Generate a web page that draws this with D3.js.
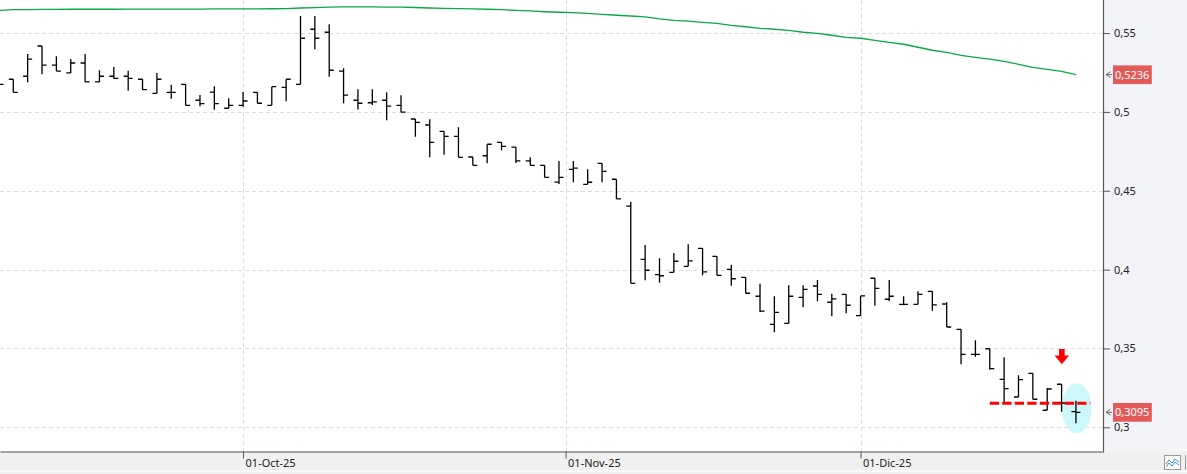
<!DOCTYPE html>
<html>
<head>
<meta charset="utf-8">
<script src="https://cdnjs.cloudflare.com/ajax/libs/d3/7.8.5/d3.min.js"></script>
<style>
  body { margin: 0; background: #fff; overflow: hidden; }
  text { font-family: "Noto Sans", sans-serif; }
</style>
</head>
<body>
<svg width="1187" height="474"></svg>
<script>
// bar numbers: first entry is bar -1 (cut off at the left edge), last is bar 74
var firstBar = -1;
var opens  = [0.5200,0.5207,0.5226,0.5418,0.5296,0.5247,0.5310,0.5190,0.5226,0.5226,0.5207,0.5118,0.5124,0.5175,0.5074,0.5126,0.5023,0.5042,0.5124,0.5042,0.5156,0.5175,0.5524,0.5505,0.5259,0.5074,0.5058,0.5074,0.5042,0.4955,0.4917,0.4877,0.4845,0.4714,0.4722,0.4807,0.4776,0.4689,0.4661,0.4555,0.4636,0.4541,0.4674,0.4573,0.4403,0.4065,0.3968,0.3983,0.4021,0.4135,0.4084,0.4002,0.3951,0.3831,0.3653,0.3659,0.3824,0.3896,0.3793,0.3843,0.3708,0.3945,0.3812,0.3780,0.3780,0.3862,0.3782,0.3621,0.3463,0.3498,0.3304,0.3192,0.3342,0.3108,0.3273,0.3100];
var highs  = [0.5205,0.5207,0.5367,0.5418,0.5353,0.5335,0.5367,0.5264,0.5285,0.5261,0.5207,0.5247,0.5172,0.5175,0.5107,0.5162,0.5086,0.5126,0.5124,0.5160,0.5207,0.5608,0.5608,0.5556,0.5277,0.5143,0.5143,0.5124,0.5105,0.4955,0.4953,0.4877,0.4902,0.4714,0.4795,0.4807,0.4776,0.4712,0.4661,0.4689,0.4689,0.4636,0.4674,0.4573,0.4431,0.4156,0.4072,0.4105,0.4160,0.4135,0.4084,0.4031,0.3951,0.3911,0.3831,0.3900,0.3900,0.3934,0.3847,0.3843,0.3833,0.3945,0.3934,0.3831,0.3862,0.3862,0.3793,0.3621,0.3552,0.3498,0.3444,0.3330,0.3342,0.3249,0.3273,0.3169];
var lows   = [0.5170,0.5124,0.5188,0.5238,0.5259,0.5247,0.5190,0.5190,0.5211,0.5134,0.5139,0.5118,0.5084,0.5042,0.5036,0.5014,0.5023,0.5033,0.5055,0.5042,0.5067,0.5175,0.5397,0.5223,0.5055,0.5015,0.5044,0.4947,0.4998,0.4843,0.4712,0.4729,0.4712,0.4661,0.4674,0.4757,0.4676,0.4661,0.4585,0.4543,0.4554,0.4541,0.4554,0.4448,0.3913,0.3932,0.3917,0.3983,0.4021,0.3964,0.3964,0.3898,0.3850,0.3731,0.3602,0.3659,0.3761,0.3799,0.3704,0.3723,0.3708,0.3771,0.3799,0.3774,0.3780,0.3739,0.3636,0.3400,0.3448,0.3365,0.3152,0.3192,0.3178,0.3108,0.3099,0.3025];
var closes = [0.5175,0.5124,0.5335,0.5296,0.5259,0.5310,0.5190,0.5226,0.5213,0.5213,0.5141,0.5207,0.5124,0.5042,0.5052,0.5052,0.5042,0.5069,0.5055,0.5160,0.5207,0.5467,0.5467,0.5264,0.5107,0.5055,0.5064,0.5036,0.4998,0.4934,0.4807,0.4845,0.4712,0.4661,0.4795,0.4782,0.4689,0.4661,0.4585,0.4585,0.4644,0.4554,0.4623,0.4448,0.3913,0.3996,0.3961,0.4053,0.4055,0.3985,0.3964,0.3942,0.3850,0.3737,0.3729,0.3831,0.3875,0.3843,0.3814,0.3774,0.3833,0.3881,0.3831,0.3780,0.3843,0.3776,0.3636,0.3463,0.3463,0.3372,0.3245,0.3302,0.3178,0.3243,0.3154,0.3095];
// moving average (green)
var avg    = [0.5644,0.5649,0.5649,0.5650,0.5650,0.5651,0.5651,0.5651,0.5651,0.5652,0.5652,0.5652,0.5652,0.5652,0.5652,0.5653,0.5653,0.5653,0.5653,0.5654,0.5655,0.5659,0.5661,0.5665,0.5666,0.5666,0.5666,0.5665,0.5664,0.5662,0.5659,0.5657,0.5655,0.5653,0.5651,0.5648,0.5644,0.5640,0.5635,0.5632,0.5629,0.5625,0.5619,0.5613,0.5608,0.5602,0.5590,0.5581,0.5575,0.5568,0.5562,0.5549,0.5540,0.5530,0.5524,0.5517,0.5505,0.5498,0.5486,0.5473,0.5467,0.5454,0.5441,0.5429,0.5410,0.5391,0.5378,0.5359,0.5346,0.5334,0.5321,0.5302,0.5283,0.5270,0.5257,0.5236];

var dateTicks  = [16, 38.46, 59];
var dateLabels = ["01-Oct-25", "01-Nov-25", "01-Dic-25"];
var priceTicks = [0.3, 0.35, 0.4, 0.45, 0.5, 0.55];
var lastValues = [0.5236, 0.3095];

var supportLevel = 0.3152, supportFrom = 68, supportTo = 75;
var arrowBar = 73, arrowTop = 0.3497;
var markBar = 74, markRange = [0.2962, 0.3279];

var W = 1187, H = 474, plotW = 1103.5, plotH = 451.5;
var svg = d3.select("svg");

var x = d3.scaleLinear().domain([-0.926, 75.92]).range([0, plotW]);
var y = d3.scaleLinear().domain([0.3, 0.55]).range([427.3, 33.05]);
var fmt = function(v) { return d3.format("")(+v.toFixed(4)).replace(".", ","); };

var bars = opens.map(function(o, i) {
  return {i: i + firstBar, o: o, h: highs[i], l: lows[i], c: closes[i], a: avg[i]};
});

// panels
svg.append("rect").attr("x", 0).attr("y", 0).attr("width", W).attr("height", H).attr("fill", "#fff");
svg.append("rect").attr("x", plotW).attr("y", 0).attr("width", W - plotW).attr("height", plotH).attr("fill", "#f3f4f7");
svg.append("rect").attr("x", 0).attr("y", plotH).attr("width", W).attr("height", H - plotH).attr("fill", "#f0f0f0");
svg.append("rect").attr("x", 0).attr("y", 470.5).attr("width", W).attr("height", 1.2).attr("fill", "#fff");

// grid
var grid = svg.append("g").attr("stroke", "#dcdcdc").attr("stroke-dasharray", "4,3").attr("stroke-width", 1);
grid.selectAll(".hg").data(priceTicks).enter().append("line")
  .attr("x1", 0).attr("x2", plotW)
  .attr("y1", function(d) { return Math.round(y(d)) + 0.5; })
  .attr("y2", function(d) { return Math.round(y(d)) + 0.5; });
grid.selectAll(".vg").data(dateTicks).enter().append("line")
  .attr("y1", 0).attr("y2", plotH)
  .attr("x1", function(d) { return Math.round(x(d)) + 0.5; })
  .attr("x2", function(d) { return Math.round(x(d)) + 0.5; });

// highlight ellipse behind the last bar
svg.append("ellipse")
  .attr("cx", x(markBar) + 0.8)
  .attr("cy", (y(markRange[0]) + y(markRange[1])) / 2)
  .attr("rx", 14.8)
  .attr("ry", (y(markRange[0]) - y(markRange[1])) / 2)
  .attr("fill", "#ccf8fb");

// OHLC bars
var tk = 4.5;
var g = svg.append("g").attr("stroke", "#000").attr("stroke-width", 1.3).attr("fill", "none");
g.selectAll("path").data(bars).enter().append("path")
  .attr("d", function(d) {
    var cx = x(d.i);
    return "M" + cx + "," + y(d.h) + "V" + y(d.l) +
           "M" + (cx - tk) + "," + y(d.o) + "H" + cx +
           "M" + cx + "," + y(d.c) + "H" + (cx + tk);
  });

// moving average
svg.append("path").datum(bars)
  .attr("fill", "none").attr("stroke", "#0aa846").attr("stroke-width", 1.3)
  .attr("d", d3.line().x(function(d) { return x(d.i); }).y(function(d) { return y(d.a); }));

// dashed support line
svg.append("line")
  .attr("x1", x(supportFrom)).attr("x2", x(supportTo))
  .attr("y1", y(supportLevel)).attr("y2", y(supportLevel))
  .attr("stroke", "#ff0000").attr("stroke-width", 3).attr("stroke-dasharray", "9.3,3.2");

// red down arrow
var ax = x(arrowBar) + 0.3, ay = y(arrowTop);
svg.append("path")
  .attr("d", "M" + (ax - 2.8) + "," + ay + "H" + (ax + 2.8) + "V" + (ay + 6.7) + "H" + (ax + 7.3) +
             "L" + ax + "," + (ay + 15.3) + "L" + (ax - 7.3) + "," + (ay + 6.7) + "H" + (ax - 2.8) + "Z")
  .attr("fill", "#ff0000");

// right axis
var minor = d3.range(-2, 33).map(function(k) { return 0.3 + k * 0.05 / 6; });
var ra = svg.append("g").attr("transform", "translate(" + plotW + ",0)");
ra.call(d3.axisRight(y).tickValues(minor).tickSize(3.5).tickFormat("").tickSizeOuter(0));
ra.call(d3.axisRight(y).tickValues(priceTicks).tickSize(6.5).tickPadding(4).tickFormat(fmt).tickSizeOuter(0));
ra.selectAll(".domain").remove();
ra.selectAll("line").attr("stroke", "#555");
ra.selectAll("text").attr("font-size", "11px").attr("fill", "#222").attr("font-family", "Noto Sans");
svg.append("line").attr("x1", plotW).attr("x2", plotW).attr("y1", 0).attr("y2", plotH)
  .attr("stroke", "#555").attr("stroke-width", 1.2);

// last value labels
var lab = svg.selectAll(".lv").data(lastValues).enter().append("g")
  .attr("transform", function(d) { return "translate(0," + y(d) + ")"; });
lab.append("rect").attr("x", 1113).attr("y", -9.3).attr("width", 38.8).attr("height", 18.7).attr("fill", "#e35a5a");
lab.append("text").attr("x", 1115).attr("y", 0).attr("dy", "0.36em").attr("font-size", "11px")
  .attr("fill", "#fff").text(fmt);
lab.append("path").attr("d", "M1110.5,-3L1106,0L1110.5,3M1106,0H1112")
  .attr("fill", "none").attr("stroke", "#666").attr("stroke-width", 1);

// bottom axis
var ba = svg.append("g").attr("transform", "translate(0," + plotH + ")");
ba.call(d3.axisBottom(x).tickValues(dateTicks).tickSize(7).tickSizeOuter(0)
  .tickFormat(function(d, i) { return dateLabels[i]; }));
ba.select(".domain").attr("stroke", "#555").attr("stroke-width", 1.2);
ba.selectAll(".tick line").attr("stroke", "#555");
ba.selectAll(".tick text").attr("text-anchor", "start").attr("x", 2).attr("y", 8)
  .attr("font-size", "11px").attr("fill", "#222").attr("font-family", "Noto Sans");

// small chart-type icon in the bottom strip
svg.append("rect").attr("x", 1164.5).attr("y", 455.5).attr("width", 16).attr("height", 14)
  .attr("fill", "#fff").attr("stroke", "#999");
svg.append("path").attr("d", "M1166,464L1169,460L1172,463L1175,459L1179,462M1166,467L1169,463L1172,466L1175,462L1179,465")
  .attr("fill", "none").attr("stroke", "#3a8fd8").attr("stroke-width", 1);
svg.append("line").attr("x1", 1185.5).attr("x2", 1185.5).attr("y1", 455).attr("y2", 470).attr("stroke", "#999");
</script>
</body>
</html>
